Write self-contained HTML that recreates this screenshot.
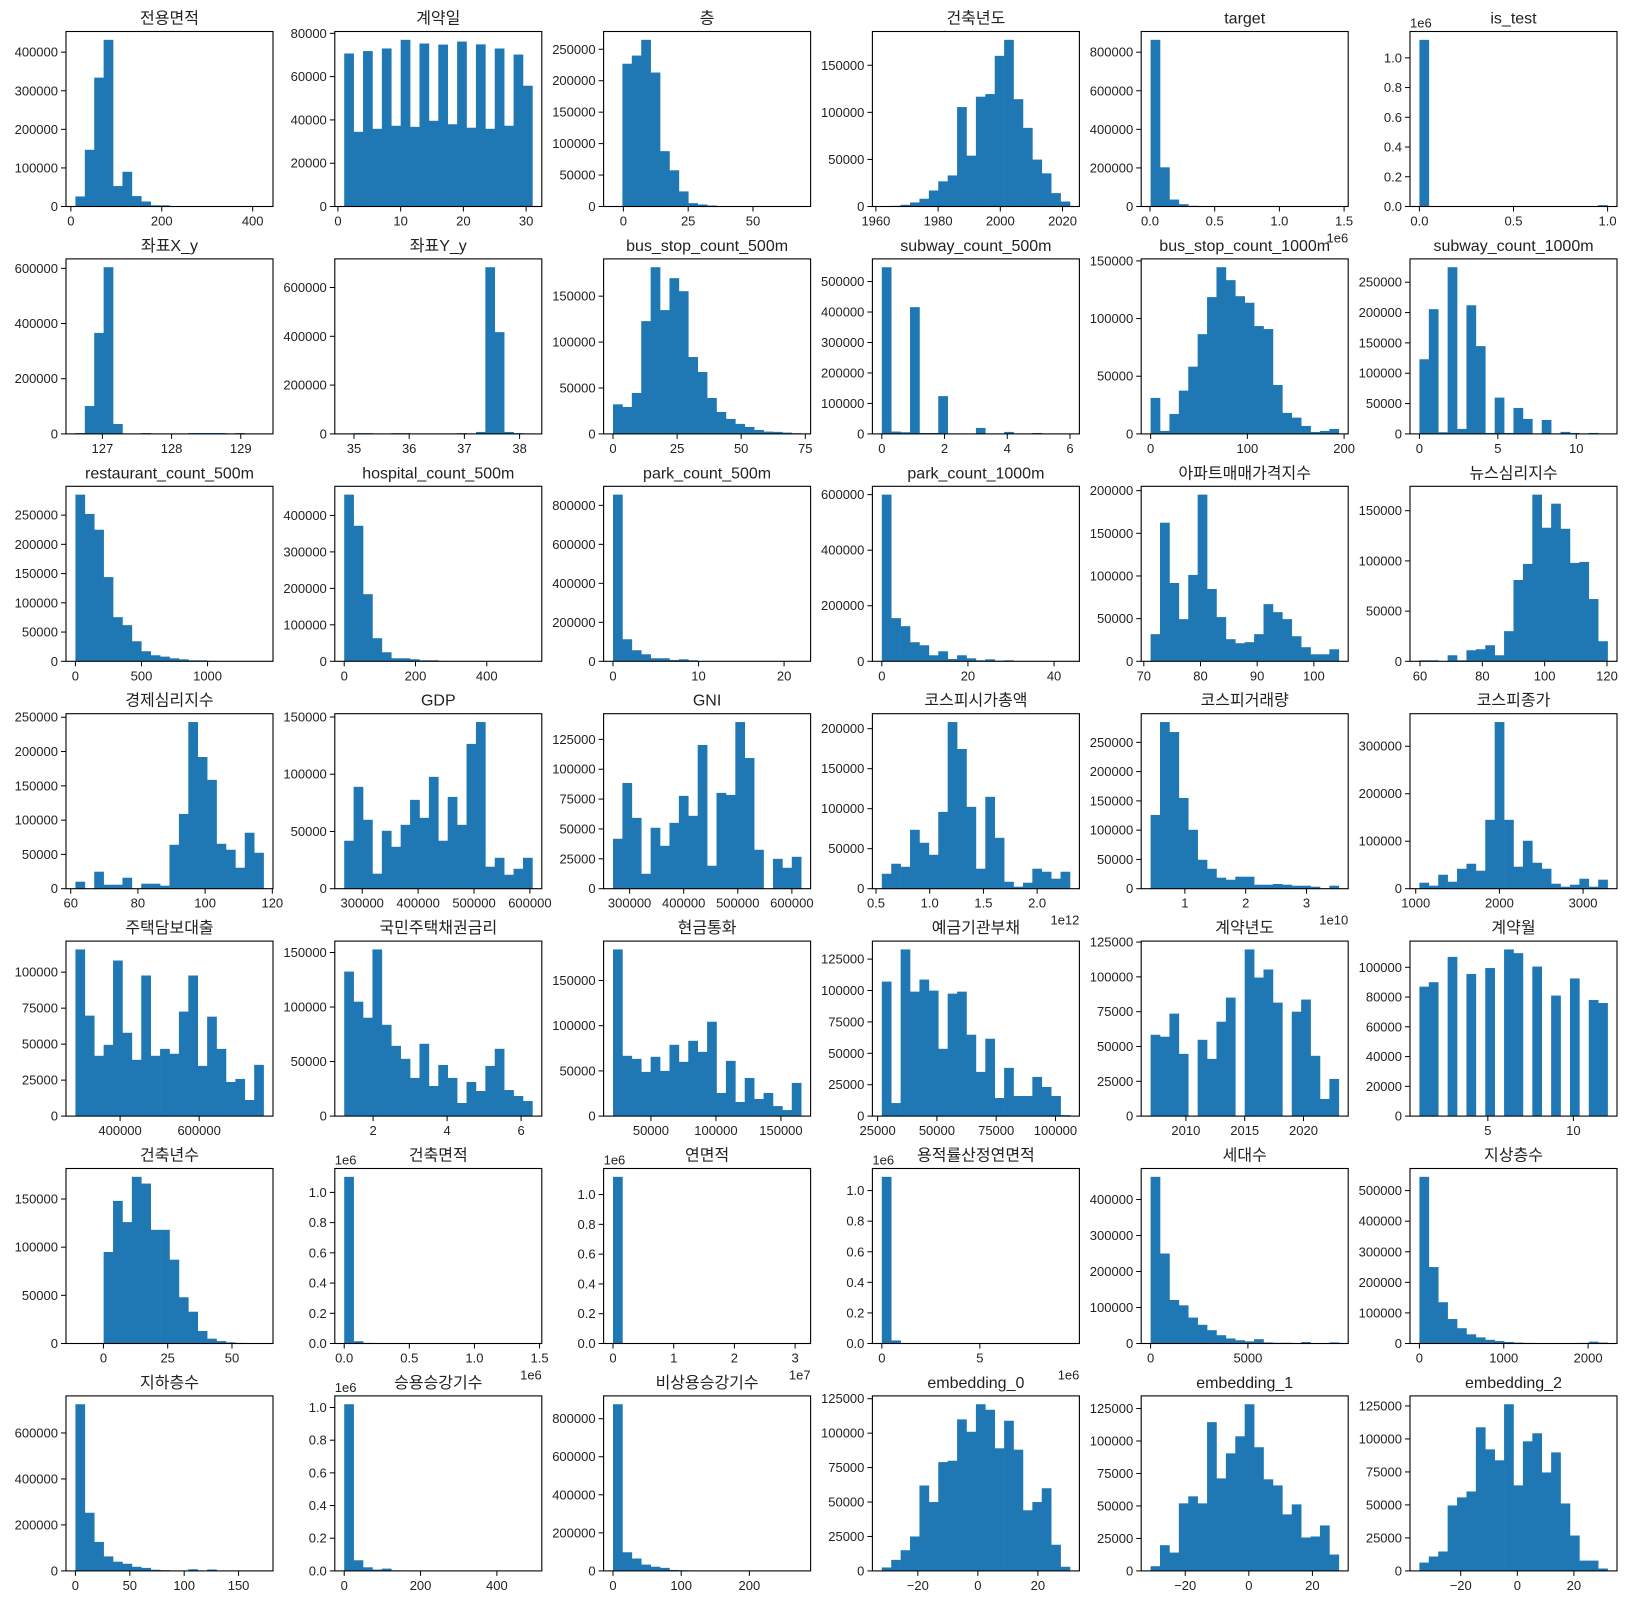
<!DOCTYPE html>
<html><head><meta charset="utf-8">
<style>
html,body{margin:0;padding:0;background:#fff;}
svg{display:block;}
text{font-family:"Liberation Sans","Noto Sans CJK KR",sans-serif;fill:#222;}
</style></head>
<body>
<svg id="fig" xmlns="http://www.w3.org/2000/svg" width="1627" height="1604" viewBox="0 0 1627 1604"></svg>
<script>
const titles=["전용면적","계약일","층","건축년도","target","is_test","좌표X_y","좌표Y_y","bus_stop_count_500m","subway_count_500m","bus_stop_count_1000m","subway_count_1000m","restaurant_count_500m","hospital_count_500m","park_count_500m","park_count_1000m","아파트매매가격지수","뉴스심리지수","경제심리지수","GDP","GNI","코스피시가총액","코스피거래량","코스피종가","주택담보대출","국민주택채권금리","현금통화","예금기관부채","계약년도","계약월","건축년수","건축면적","연면적","용적률산정연면적","세대수","지상층수","지하층수","승용승강기수","비상용승강기수","embedding_0","embedding_1","embedding_2"];
const binMin=[10,1,-4,1961.9,4700,0,126.61,34.823,0,0,0,0,0,0,0,0,71.2,59.8,61.4,267760,269320,0.554e12,0.437e10,1044,286962,1.219,20836,26768,2007,1,-10.9,0,0,0,1,0,0,0,0,-32,-30.9,-34.6];
const binMax=[424,31,68.6,2022.4,1459000,1,129.33,38.232,73.4,6,194.5,12,1424,528,22,43.7,104.4,120.2,117.4,604460,617220,2.306e12,3.53e10,3293,763038,6.305,165564,106132,2023,12,62.3,1.445e6,3.1e7,9.6e6,9670,2231,173,493,276,30.7,28.3,31.9];
const counts=[
[26000,147000,334000,432000,53000,90000,27000,13000,3000,3000,800,300,100,50,20,10,5,3,2,1],
[70700,34500,71800,35900,73000,37300,77000,36800,75300,39600,74800,38000,76200,36400,74900,35900,73000,37300,70200,55800],
[300,227000,240000,265000,213000,88000,57600,24000,5300,3200,1600,400,200,100,50,30,20,10,5,2],
[200,700,1800,4300,8200,17000,26700,33000,105600,54000,116600,119400,160000,177000,114000,83500,49800,35200,14200,5300],
[864000,203000,36000,12000,3500,1200,500,250,120,60,30,20,10,8,5,3,2,1,1,1],
[1121000,0,0,0,0,0,0,0,0,0,0,0,0,0,0,0,0,0,0,9300],
[3000,101000,366000,604000,36000,300,200,3000,200,100,100,300,3000,3000,3000,3000,200,3000,100,100],
[200,3000,3000,100,100,3000,3000,100,100,100,100,200,3000,500,8000,683000,417000,8000,3000,200],
[32200,29300,44600,122800,181500,134800,169600,155400,83700,67400,39100,23900,16300,10900,7600,4300,2500,2200,1400,700],
[547000,7600,5500,416000,3000,3000,124000,0,0,0,19600,0,0,6500,0,0,3000,0,0,500],
[31200,2600,17300,37500,58300,86500,118600,144500,133300,119400,113700,93500,90900,42400,18200,14100,6900,1700,2600,4300],
[123000,205600,2700,274700,8200,212000,144700,1600,59800,1600,42800,24700,0,23000,0,3300,1600,0,1600,300],
[285000,252000,225000,144000,75500,61800,34300,17200,10300,8000,5100,3400,1700,1700,800,500,300,200,100,50],
[457000,371600,184000,63300,24800,8300,8300,5500,2800,2800,1000,500,300,200,100,100,50,50,30,20],
[855000,113000,56700,36000,15500,15500,6900,10300,5200,1700,1000,800,500,300,200,100,100,50,30,20],
[600000,155400,126500,68700,57800,21700,36100,8400,21700,10800,3600,7200,2400,3600,1000,800,500,300,200,100],
[31800,162400,91800,49400,101200,195300,84700,51800,25900,21200,22400,31800,67000,57600,49400,29400,16500,8200,8200,14100],
[1000,1000,0,6000,1000,11000,12000,16000,6000,30000,81000,97000,166000,133000,157000,132000,98000,99000,62000,20000],
[10200,0,24800,5800,5800,16000,0,7300,7300,4400,64000,109000,243000,192000,158700,65500,56800,30600,81600,52400],
[41900,89000,60200,13100,50600,36600,55800,77600,61900,97700,41900,80200,55800,126500,145600,19200,27000,12200,17400,27000],
[41800,88500,59300,12500,51000,35900,55100,77700,61000,120300,19200,80200,78500,139500,109400,32600,0,25000,17500,26700],
[18700,31200,27400,73600,57400,42400,96000,208300,174600,102300,25000,114800,63600,8700,2500,7500,25000,21200,12500,21200],
[126000,284700,267600,155000,100600,49400,34000,18800,15300,20500,20500,6800,6800,8000,6800,5100,5100,3400,500,5100],
[12600,6300,29400,14700,42000,52600,37900,145000,351000,145000,46300,101000,54700,42000,10500,4200,8400,21000,4200,19000],
[115800,69800,41900,49500,108100,57900,39100,97700,41900,46700,43300,72600,97700,34900,69100,46700,23700,25800,11200,35600],
[132500,104900,90200,152800,83700,64400,52500,35000,66300,27600,46900,35000,12000,31300,23000,46000,61700,23900,18400,13800],
[184400,66700,63300,48900,65600,50000,78900,60000,83300,71100,104400,25600,61100,15600,42200,18900,25600,11100,6700,36700],
[107100,10400,132700,99100,108700,99900,53600,97500,99100,64800,35200,61600,14400,38400,16000,16000,31200,23200,16000,800],
[58400,57000,73600,44700,0,54800,41100,67800,85100,0,119700,99500,105300,81500,0,75000,83700,43300,12300,26700],
[87000,90000,0,107000,0,95500,0,99500,0,112000,109500,0,100500,0,81000,0,92500,0,78000,76000],
[50,100,200,95000,148000,126000,173000,166000,118000,118000,87000,48000,33000,13000,5000,2500,1200,600,300,100],
[1103000,15000,4000,2000,1000,500,300,200,100,100,50,50,30,20,10,10,5,5,5,2000],
[1119000,3000,1000,500,300,200,100,100,50,50,30,30,20,20,10,10,5,5,5,5],
[1090000,20000,3000,1000,500,300,200,100,100,50,50,30,20,20,10,10,5,5,5,5],
[463000,250000,121000,106000,72000,52000,37000,23000,14000,9000,6000,12000,3000,2000,2000,1000,4000,1000,500,3000],
[545000,250000,135000,80000,50000,30000,20000,12000,8000,5000,3000,2000,1000,800,600,400,300,2000,6000,3000],
[725000,253000,126000,63000,40000,31000,18000,13000,5000,3000,1500,1000,7000,1000,6000,1000,500,300,200,1000],
[1020000,65000,22000,8000,14000,3000,1500,1000,600,400,300,200,150,100,80,60,40,30,20,10],
[876000,98000,65000,33000,22000,16000,5000,3000,2000,1000,600,400,300,200,150,100,80,50,30,20],
[2500,8000,15000,25000,62000,50000,79000,80000,110000,101000,121000,117000,89000,109000,88000,44000,50000,60000,19000,3000],
[3600,19800,14100,52000,57400,52000,114500,71200,90500,103600,128300,95200,70500,65800,43500,51200,25700,26500,35000,12600],
[6300,10900,14700,49600,55700,60200,108800,92100,83800,126300,64800,98200,104300,74600,89800,51100,26800,7800,7800,1800]
];
const xTicks=[[0,200,400],[0,10,20,30],[0,25,50],[1960,1980,2000,2020],[0,0.5e6,1e6,1.5e6],[0,0.5,1],
[127,128,129],[35,36,37,38],[0,25,50,75],[0,2,4,6],[0,100,200],[0,5,10],
[0,500,1000],[0,200,400],[0,10,20],[0,20,40],[70,80,90,100],[60,80,100,120],
[60,80,100,120],[300000,400000,500000,600000],[300000,400000,500000,600000],[0.5e12,1e12,1.5e12,2e12],[1e10,2e10,3e10],[1000,2000,3000],
[400000,600000],[2,4,6],[50000,100000,150000],[25000,50000,75000,100000],[2010,2015,2020],[5,10],
[0,25,50],[0,0.5e6,1e6,1.5e6],[0,1e7,2e7,3e7],[0,5e6],[0,5000],[0,1000,2000],
[0,50,100,150],[0,200,400],[0,100,200],[-20,0,20],[-20,0,20],[-20,0,20]];
const xExp=[0,0,0,0,6,0, 0,0,0,0,0,0, 0,0,0,0,0,0, 0,0,0,12,10,0, 0,0,0,0,0,0, 0,6,7,6,0,0, 0,0,0,0,0,0];
const xDec=[0,0,0,0,1,1, 0,0,0,0,0,0, 0,0,0,0,0,0, 0,0,0,1,0,0, 0,0,0,0,0,0, 0,1,0,0,0,0, 0,0,0,0,0,0];
const yStep=[100000,20000,50000,50000,200000,200000, 200000,200000,50000,100000,50000,50000, 50000,100000,200000,200000,50000,50000, 50000,50000,25000,50000,50000,100000, 25000,50000,50000,25000,25000,20000, 50000,200000,200000,200000,100000,100000, 200000,200000,200000,25000,25000,25000];
const yExp=[0,0,0,0,0,6, 0,0,0,0,0,0, 0,0,0,0,0,0, 0,0,0,0,0,0, 0,0,0,0,0,0, 0,6,6,6,0,0, 0,6,0,0,0,0];

const NS="http://www.w3.org/2000/svg";
const fig=document.getElementById('fig');
const L0=66,CP=268.8,W=207,T0=31.5,RP=227.4,H=175;
function mk(tag,attrs,parent){const e=document.createElementNS(NS,tag);for(const k in attrs)e.setAttribute(k,attrs[k]);parent.appendChild(e);return e;}
function fmt(v,exp,dec){let s=(v/Math.pow(10,exp)).toFixed(dec);return s.replace('-','\u2212');}
for(let i=0;i<titles.length;i++){
  const col=i%6,row=Math.floor(i/6);
  const left=L0+col*CP,top=T0+row*RP,bottom=top+H,right=left+W;
  const g=mk('g',{},fig);
  
  
  const mn=binMin[i],mx=binMax[i],R=mx-mn;
  const xlo=mn-0.05*R,xhi=mx+0.05*R;
  const c=counts[i];const cmax=Math.max(...c);const ymax=1.05*cmax;
  const X=v=>left+(v-xlo)/(xhi-xlo)*W;
  const Y=v=>bottom-v/ymax*H;
  const n=c.length,bw=R/n;
  for(let b=0;b<n;b++){
    if(c[b]<=0)continue;
    const x0=X(mn+b*bw),x1=X(mn+(b+1)*bw);
    const r=mk('rect',{x:x0,y:Y(c[b]),width:x1-x0+0.3,height:bottom-Y(c[b]),fill:'#1f77b4'},g);
    
    
  }
  const fr=mk('rect',{x:left,y:top,width:W,height:H,fill:'none',stroke:'#000','stroke-width':1.1},g);
  
  
  const t=mk('text',{x:left+W/2,y:top-8,'text-anchor':'middle','font-size':16},g);
  t.textContent=titles[i];
  
  
  for(const v of xTicks[i]){
    const px=X(v);
    mk('line',{x1:px,x2:px,y1:bottom,y2:bottom+5,stroke:'#000','stroke-width':1},g);
    const tl=mk('text',{x:px,y:bottom+19,'text-anchor':'middle','font-size':13},g);
    tl.textContent=fmt(v,xExp[i],xDec[i]);
    
    
  }
  const st=yStep[i];
  for(let v=0;v<=ymax+1e-9;v+=st){
    const py=Y(v);
    mk('line',{x1:left-5,x2:left,y1:py,y2:py,stroke:'#000','stroke-width':1},g);
    const yl=mk('text',{x:left-8,y:py+4.5,'text-anchor':'end','font-size':13},g);
    yl.textContent=yExp[i]?(v/Math.pow(10,yExp[i])).toFixed(1):String(Math.round(v));
    
    
  }
  if(xExp[i]){
    const o=mk('text',{x:right,y:bottom+36,'text-anchor':'end','font-size':13},g);
    o.textContent='1e'+xExp[i];
    
    
  }
  if(yExp[i]){
    const o=mk('text',{x:left,y:top-4,'text-anchor':'start','font-size':13},g);
    o.textContent='1e'+yExp[i];
    
    
  }
}
</script>
</body></html>
